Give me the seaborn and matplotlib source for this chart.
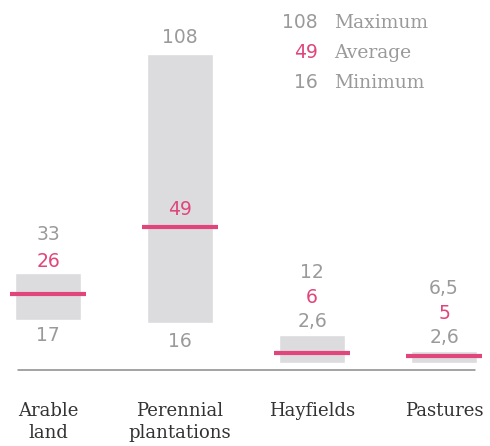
import numpy as np
import pandas as pd
import seaborn as sns
import matplotlib.pyplot as plt

# data
categories = ["Arable\nland", "Perennial\nplantations", "Hayfields", "Pastures"]
minimum = [17, 16, 2.6, 2.6]
average = [26, 49, 6, 5]
maximum = [33, 108, 12, 6.5]

legend_names = ["Maximum", "Average", "Minimum"]

bar_color = "#dcdcde"
pink = "#e0457b"
grey = "#9a9a9a"

sns.set_theme(style="white")
plt.rcParams["font.family"] = ["DejaVu Serif"]

df = pd.DataFrame({"category": categories, "min": minimum,
                   "avg": average, "max": maximum})
df["span"] = df["max"] - df["min"]

fig = plt.figure(figsize=(4.9, 4.46), dpi=100)
ax = fig.add_axes([0, 0.17, 1, 0.83])

# range bars from minimum to maximum
sns.barplot(data=df, x="category", y="span", bottom=df["min"].values,
            color=bar_color, width=0.495, errorbar=None, ax=ax,
            saturation=1)

# average marker
xs = np.arange(len(df))
ax.hlines(df["avg"], xs - 0.288, xs + 0.288, color=pink, linewidth=3)

ax.set_xlim(-0.364, 3.348)
ax.set_ylim(0, 126.3)

# baseline
ax.axhline(0, xmin=0.037, xmax=0.969, color="#8a8a8a", linewidth=1.1,
           clip_on=False)


def fmt(v):
    return f"{v:g}".replace(".", ",")


def put(x, y, v, dy_px, color):
    ax.annotate(fmt(v), (x, y), xytext=(0, dy_px * 0.72),
                textcoords="offset points", ha="center", va="center",
                fontsize=13.5, color=color, family="DejaVu Sans")


for i, row in df.iterrows():
    if i == 0:
        put(i, row["max"], row["max"], 39, grey)
        put(i, row["max"], row["avg"], 12, pink)
        put(i, row["min"], row["min"], -15, grey)
    elif i == 1:
        put(i, row["max"], row["max"], 16, grey)
        put(i, row["avg"], row["avg"], 17, pink)
        put(i, row["min"], row["min"], -18, grey)
    else:
        put(i, row["max"], row["min"], 14, grey)
        put(i, row["max"], row["avg"], 38, pink)
        put(i, row["max"], row["max"], 63, grey)

# legend in the top right
legend_vals = [maximum[1], average[1], minimum[1]]
legend_cols = [grey, pink, grey]
for k, (val, name, col) in enumerate(zip(legend_vals, legend_names, legend_cols)):
    ypos = 1 - (23 + 30 * k) / 446
    fig.text(318 / 490, ypos, fmt(val), ha="right", va="center",
             fontsize=13.5, color=col, family="DejaVu Sans")
    fig.text(334 / 490, ypos, name, ha="left", va="center",
             fontsize=13.5, color=grey)

ax.set_xlabel("")
ax.set_ylabel("")
ax.set_yticks([])
ax.tick_params(axis="x", length=0, pad=23, labelsize=13, labelcolor="#333333")
for lab in ax.get_xticklabels():
    lab.set_linespacing(1.3)
    lab.set_verticalalignment("top")
sns.despine(ax=ax, left=True, bottom=True)

plt.savefig("out.png", dpi=100)
